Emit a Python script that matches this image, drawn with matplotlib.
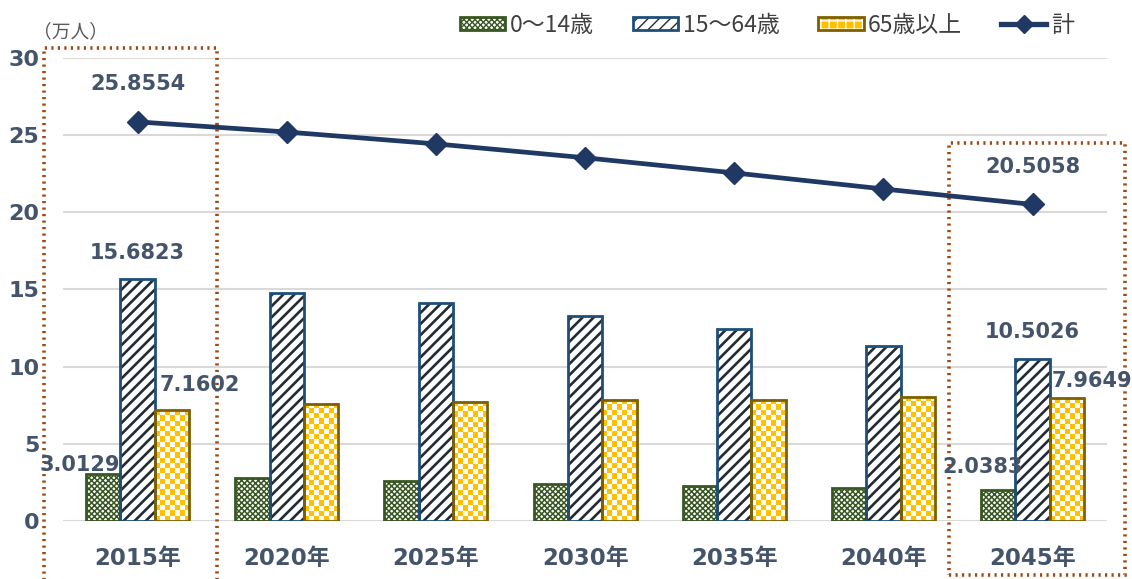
import numpy as np
import matplotlib
matplotlib.use("Agg")
import matplotlib.pyplot as plt
from matplotlib.patches import Rectangle, Patch
from matplotlib.lines import Line2D
from matplotlib.legend_handler import HandlerTuple

plt.rcParams['font.family'] = ['DejaVu Sans', 'Noto Sans CJK JP']

years = ['2015年', '2020年', '2025年', '2030年', '2035年', '2040年', '2045年']
age0_14 = [3.0129, 2.81, 2.59, 2.40, 2.27, 2.13, 2.0383]
age15_64 = [15.6823, 14.76, 14.11, 13.29, 12.44, 11.34, 10.5026]
age65 = [7.1602, 7.58, 7.73, 7.84, 7.84, 8.04, 7.9649]
total = [25.8554, 25.20, 24.43, 23.53, 22.55, 21.51, 20.5058]
legend_names = ['0～14歳', '15～64歳', '65歳以上', '計']

txt_col = '#44546A'
green = '#385723'
blue_edge = '#1F4E79'
navy = '#222A35'
gold = '#7F6000'
yellow = '#FFC000'
line_col = '#1F3864'
box_col = '#9E4A17'

fig = plt.figure(figsize=(11.32, 5.79), dpi=100)
ax = fig.add_axes([0.0557, 0.1002, 0.9223, 0.7998])

x = np.arange(len(years))
w = 0.23

# 0-14: green cross hatch
with plt.rc_context({'hatch.linewidth': 1.1}):
    ax.bar(x - w, age0_14, w, color='white', edgecolor=green, hatch='xxxxxx', linewidth=0, zorder=2)
ax.bar(x - w, age0_14, w, fill=False, edgecolor=green, linewidth=2, zorder=4)

# 15-64: diagonal stripes
with plt.rc_context({'hatch.linewidth': 1.9}):
    ax.bar(x, age15_64, w, color='white', edgecolor=navy, hatch='///', linewidth=0, zorder=2)
ax.bar(x, age15_64, w, fill=False, edgecolor=blue_edge, linewidth=2, zorder=4)

# 65+: checkerboard
ax.set_xlim(-0.5, len(years) - 0.5)
ax.set_ylim(0, 30)
bars65 = ax.bar(x + w, age65, w, color=yellow, linewidth=0, zorder=2)
sq = 5.2
ycol = np.array(matplotlib.colors.to_rgb(yellow))
for b in bars65:
    x0, y0 = b.get_x(), b.get_y()
    bw, bh = b.get_width(), b.get_height()
    p0 = ax.transData.transform((x0, y0))
    p1 = ax.transData.transform((x0 + bw, y0 + bh))
    nc = max(1, int(round((p1[0] - p0[0]) / sq)))
    nr = max(1, int(round((p1[1] - p0[1]) / sq)))
    ii, jj = np.indices((nr, nc))
    mask = ((ii + jj) % 2 == 0)
    img = np.ones((nr, nc, 3))
    img[mask] = ycol
    ax.imshow(img, extent=(x0, x0 + bw, y0, y0 + bh), aspect='auto',
              interpolation='nearest', origin='lower', zorder=3)
ax.bar(x + w, age65, w, fill=False, edgecolor=gold, linewidth=2, zorder=4)

# total line
ax.plot(x, total, color=line_col, linewidth=3.4, marker='D', markersize=11, zorder=5)

ax.set_xlim(-0.5, len(years) - 0.5)
ax.set_ylim(0, 30)
ax.set_yticks([0, 5, 10, 15, 20, 25, 30])
ax.grid(axis='y', color='#D9D9D9', linewidth=1.5, zorder=0)
ax.set_axisbelow(True)
for s in ax.spines.values():
    s.set_visible(False)
ax.set_xticks(x)
ax.set_xticklabels(years)
ax.tick_params(axis='both', length=0, labelcolor=txt_col)
ax.tick_params(axis='x', pad=19, labelsize=16.5)
ax.tick_params(axis='y', pad=17, labelsize=16)
for lab in ax.get_xticklabels() + ax.get_yticklabels():
    lab.set_fontweight('bold')

# data labels for first and last year
lab_kw = dict(textcoords='offset points', ha='center', va='center',
              fontsize=15, fontweight='bold', color=txt_col, zorder=6,
              annotation_clip=False)
for i in (0, len(years) - 1):
    ax.annotate(f'{total[i]:.4f}', (x[i], total[i]), xytext=(0, 27), **lab_kw)
    ax.annotate(f'{age15_64[i]:.4f}', (x[i], age15_64[i]), xytext=(0, 19), **lab_kw)
ax.annotate(f'{age65[0]:.4f}', (x[0] + w, age65[0]), xytext=(20, 18), **lab_kw)
ax.annotate(f'{age0_14[0]:.4f}', (x[0] - w, age0_14[0]), xytext=(-17, 7), **lab_kw)
ax.annotate(f'{age65[-1]:.4f}', (x[-1] + w, age65[-1]), xytext=(18, 12), **lab_kw)
ax.annotate(f'{age0_14[-1]:.4f}', (x[-1] - w, age0_14[-1]), xytext=(-11, 16), **lab_kw)

# dotted highlight boxes
ax.add_patch(Rectangle((x[0] - 0.63, -5), 1.16, 35.65, fill=False, edgecolor=box_col,
                       linestyle=(0, (0.6, 1.2)), linewidth=2.6, clip_on=False, zorder=1))
ax.add_patch(Rectangle((x[-1] - 0.557, -3.5), 1.18, 28.0, fill=False, edgecolor=box_col,
                       linestyle=(0, (0.6, 1.2)), linewidth=2.6, clip_on=False, zorder=1))

fig.text(0.029, 1 - 32 / 579, '（万人）', fontsize=13.5, color='#595959',
         family=['Noto Sans CJK JP'], va='center', ha='left')

# legend
h0 = (Patch(facecolor='white', edgecolor=green, hatch='xxxxxx', linewidth=0),
      Patch(fill=False, edgecolor=green, linewidth=2))
h1 = (Patch(facecolor='white', edgecolor=navy, hatch='///', linewidth=0),
      Patch(fill=False, edgecolor=blue_edge, linewidth=2))
h2 = (Patch(facecolor=yellow, edgecolor='white', hatch='++', linewidth=0),
      Patch(fill=False, edgecolor=gold, linewidth=2))
h3 = Line2D([], [], color=line_col, linewidth=3.8, marker='D', markersize=9)
fig.legend([h0, h1, h2, h3], legend_names, loc='center',
           bbox_to_anchor=(0.6776, 1 - 25 / 579), ncol=4, frameon=False,
           handler_map={tuple: HandlerTuple(ndivide=1, pad=0)},
           prop={'family': 'Noto Sans CJK JP', 'size': 16.5},
           labelcolor='#404040', handlelength=1.97, handleheight=0.52,
           handletextpad=0.2, columnspacing=1.7)

fig.savefig('out.png', dpi=100)
